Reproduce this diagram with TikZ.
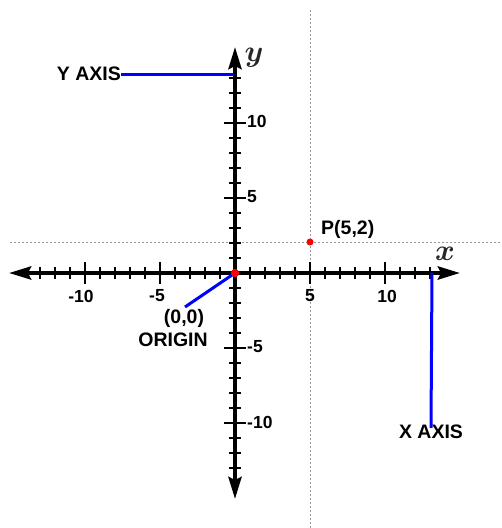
\RequirePackage{fix-cm}
\documentclass[tikz,border=0pt]{standalone}
\usepackage{fontspec}
\setmainfont{Liberation Sans}
\usetikzlibrary{arrows.meta}
\begin{document}
\begin{tikzpicture}[x=1pt,y=-1pt,
  guide/.style={gray!80,line width=0.8pt,dash pattern=on 2pt off 2pt},
  axisline/.style={line width=4pt,
    {Stealth[length=22pt,width=13pt,inset=3pt]}-{Stealth[length=22pt,width=13pt,inset=3pt]}},
  tickline/.style={line width=2.2pt},
  num/.style={inner sep=0pt,font=\fontsize{17.5}{17.5}\selectfont\bfseries},
  lbl/.style={inner sep=0pt,font=\fontsize{19.5}{19.5}\selectfont\bfseries},
  blueline/.style={blue,line width=3pt},
  dot/.style={circle,fill=red,inner sep=0pt,minimum size=8pt},
  axname/.style={inner sep=0pt,text=black!85,font=\fontsize{30}{30}\selectfont\boldmath}]
\useasboundingbox (0,0) rectangle (502,528);
% guide lines through P(5,2)
\coordinate (gl) at (10,242);
\coordinate (gr) at (502,242);
\coordinate (gt) at (310,10);
\coordinate (gb) at (310,528);
\draw[guide] (gl) -- (gr);
\draw[guide] (gt) -- (gb);
% axes
\coordinate (xl) at (9,273);
\coordinate (xr) at (460,273);
\coordinate (yt) at (235,47);
\coordinate (yb) at (235,499);
\draw[axisline] (xl) -- (xr);
\draw[axisline] (yb) -- (yt);
% ticks
\foreach \i in {-13,...,13}{
  \pgfmathtruncatemacro\m{mod(abs(\i),5)}
  \ifnum\m=0 \def\tl{11}\else\def\tl{6}\fi
  \draw[tickline] ({235+15*(\i)},{273-\tl}) -- ({235+15*(\i)},{273+\tl});
  \draw[tickline] ({235-\tl},{273-15*(\i)}) -- ({235+\tl},{273-15*(\i)});
}
% axis numbers
\node[num] (xm10) at (81,296) {-10};
\node[num] (xm5) at (157,296) {-5};
\node[num] (xp5) at (310,296) {5};
\node[num] (xp10) at (387,296) {10};
\node[num,anchor=west] (yp10) at (247,121) {10};
\node[num,anchor=west] (yp5) at (247,197) {5};
\node[num,anchor=west] (ym5) at (247,347) {-5};
\node[num,anchor=west] (ym10) at (247,422) {-10};
% axis names
\node[axname] (xname) at (445,254) {$x$};
\node[axname] (yname) at (254,58) {$y$};
% points
\node[dot] (O) at (235,273) {};
\node[dot,minimum size=7pt] (P) at (310,242) {};
\node[lbl,anchor=west] (Plbl) at (321,229) {P(5,2)};
% origin label
\node[lbl] (org1) at (184,318) {(0,0)};
\node[lbl] (org2) at (173,340) {ORIGIN};
\coordinate (orgend) at (185,307);
\draw[blueline] (O.center) -- (orgend);
% Y axis label
\node[lbl,anchor=east] (ylbl) at (121,74) {Y AXIS};
\coordinate (yaxpt) at (234,74);
\draw[blueline] (ylbl.east) -- (yaxpt);
% X axis label
\node[lbl] (xlbl) at (431,432) {X AXIS};
\coordinate (xaxpt) at (432,273);
\draw[blueline] (xaxpt) -- ([yshift=-3pt]xlbl.north);
\node[dot] (O2) at (235,273) {};
\end{tikzpicture}
\end{document}
